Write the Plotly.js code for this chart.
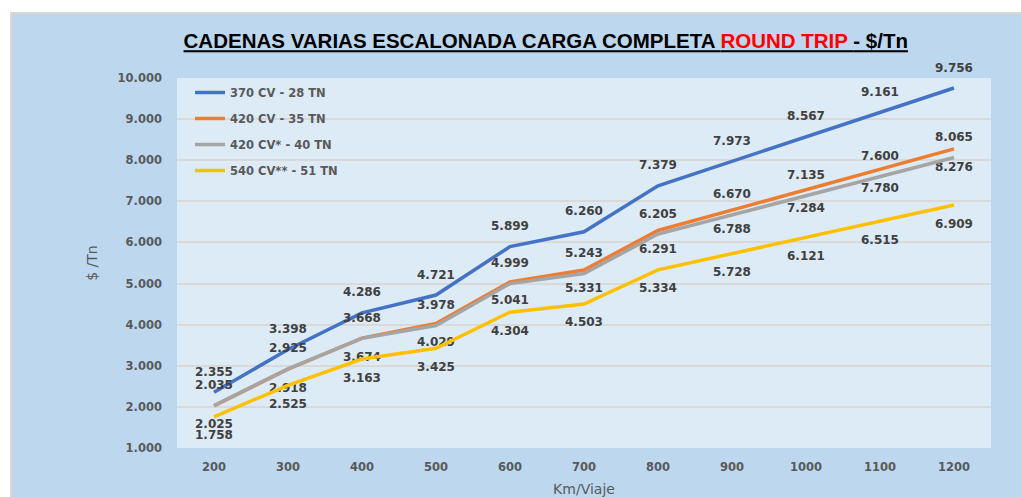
<!DOCTYPE html>
<html>
<head>
<meta charset="utf-8">
<script src="https://cdn.plot.ly/plotly-3.0.1.min.js"></script>
<style>
  html, body { margin: 0; padding: 0; background: #ffffff; overflow: hidden; }
  #frame { position: absolute; left: 10px; top: 12px; width: 1011px; height: 485px; background: #d9d9d9; }
  #plot { position: absolute; left: 12px; top: 14px; width: 1009px; height: 483px; }
</style>
</head>
<body>
<div id="frame"></div>
<div id="plot"></div>
<script>
// km por viaje
let km = ["200", "300", "400", "500", "600", "700", "800", "900", "1000", "1100", "1200"];

let cv370 = [2355, 3398, 4286, 4721, 5899, 6260, 7379, 7973, 8567, 9161, 9756];
let cv420 = [2025, 2918, 3674, 4029, 5041, 5331, 6291, 6788, 7284, 7780, 8276];
let cv420b = [2035, 2925, 3668, 3978, 4999, 5243, 6205, 6670, 7135, 7600, 8065];
let cv540 = [1758, 2525, 3163, 3425, 4304, 4503, 5334, 5728, 6121, 6515, 6909];

let yTicks = [1000, 2000, 3000, 4000, 5000, 6000, 7000, 8000, 9000, 10000];

let labelFont = {family: "DejaVu Sans", size: 12, color: "#404040", weight: "bold"};

function serie(y, name, color, pos, grp) {
    return {
        x: km,
        y: y,
        name: name,
        type: "scatter",
        mode: "lines+markers+text",
        line: {color: color, width: 3.5},
        marker: {size: 20, color: "rgba(0,0,0,0)"},
        texttemplate: "%{y:,.0f}",
        textposition: pos,
        textfont: labelFont,
        cliponaxis: false,
        legendgroup: grp,
        hoverinfo: "x+y+name"
    };
}

let trace1 = serie(cv370, "370 CV - 28 TN", "#4472C4", "top center", "a");
let trace2 = serie(cv420, "420 CV - 35 TN", "#ED7D31", "bottom center", "b");
let trace3 = serie(cv420b, "420 CV* - 40 TN", "#A5A5A5", "top center", "c");
let trace4 = serie(cv540, "540 CV** - 51 TN", "#FFC000", "bottom center", "d");

let layout = {
    separators: ",.",
    paper_bgcolor: "#BDD7EE",
    plot_bgcolor: "#DDEBF7",
    margin: {l: 165, r: 30, t: 64, b: 49},
    showlegend: true,
    title: {
        text: "<span style='text-decoration:underline'>CADENAS VARIAS ESCALONADA CARGA COMPLETA <span style='color:#FF0000'>ROUND TRIP </span>- $/Tn</span>",
        font: {family: "Liberation Sans, Arial", size: 20.5, color: "#000000", weight: "bold"},
        x: 0.529,
        xanchor: "center",
        y: 0.944,
        yanchor: "middle"
    },
    legend: {
        x: 0.016,
        y: 1.0,
        xanchor: "left",
        yanchor: "top",
        bgcolor: "rgba(0,0,0,0)",
        font: {family: "DejaVu Sans", size: 11.5, color: "#595959", weight: "bold"},
        tracegroupgap: 7,
        traceorder: "grouped"
    },
    xaxis: {
        type: "category",
        range: [-0.5, 10.5],
        showgrid: false,
        zeroline: false,
        showline: false,
        ticks: "",
        ticklabelstandoff: 10,
        tickfont: {family: "DejaVu Sans", size: 11.5, color: "#595959", weight: "bold"},
        title: {text: "Km/Viaje", font: {family: "DejaVu Sans", size: 14, color: "#595959"}, standoff: 21}
    },
    yaxis: {
        range: [1000, 10000],
        tickvals: yTicks,
        tickformat: ",.0f",
        showgrid: true,
        gridcolor: "#D9D9D9",
        gridwidth: 1.5,
        zeroline: false,
        showline: false,
        ticks: "",
        ticklabelstandoff: 14,
        tickfont: {family: "DejaVu Sans", size: 11.5, color: "#595959", weight: "bold"},
        title: {text: "$ /Tn", font: {family: "DejaVu Sans", size: 14, color: "#595959"}, standoff: 16}
    }
};

let plotData = [trace1, trace2, trace3, trace4];

Plotly.newPlot("plot", plotData, layout, {displayModeBar: false, responsive: false});
</script>
</body>
</html>
